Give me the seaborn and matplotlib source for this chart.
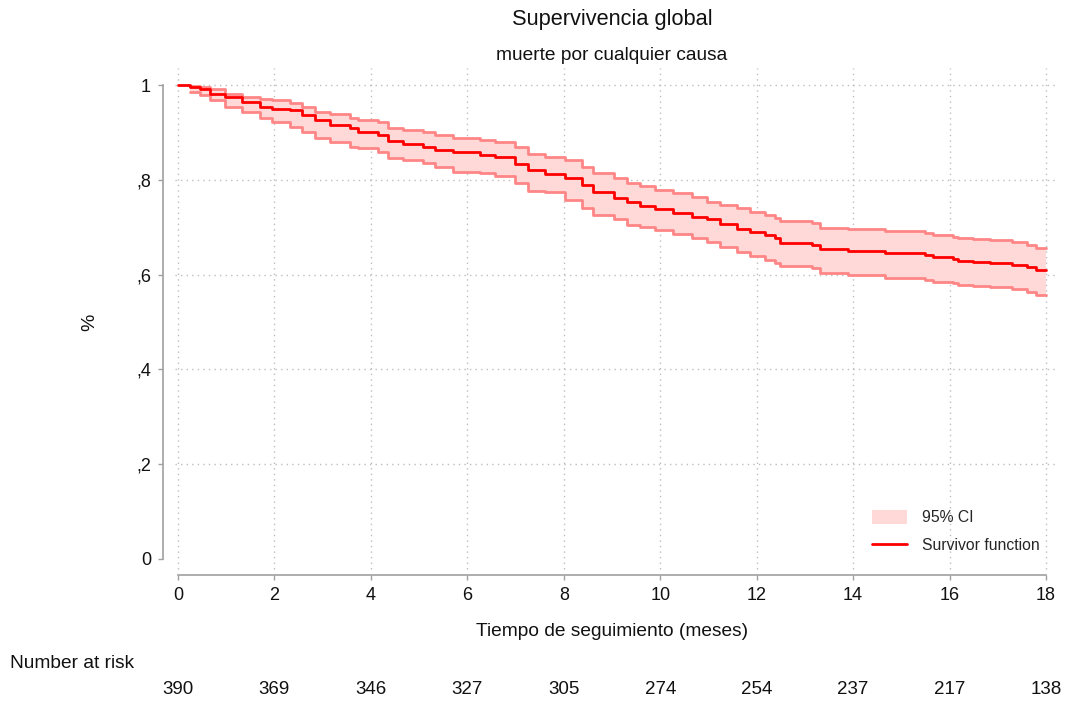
import numpy as np
import matplotlib
matplotlib.use("Agg")
import matplotlib.pyplot as plt
import matplotlib.transforms as mtransforms
from matplotlib.patches import Patch
from matplotlib.lines import Line2D
import pandas as pd
import seaborn as sns

# Kaplan-Meier estimate: step times (months) and survivor function
months = [0, 0.25, 0.46, 0.66, 0.97, 1.33, 1.70, 1.95, 2.32, 2.57,
          2.84, 3.15, 3.57, 3.73, 4.15, 4.36, 4.67, 5.08, 5.33, 5.70,
          6.26, 6.57, 6.99, 7.26, 7.61, 8.03, 8.38, 8.61, 9.04, 9.31,
          9.58, 9.89, 10.27, 10.66, 10.97, 11.24, 11.59, 11.86, 12.17, 12.38,
          12.48, 13.15, 13.31, 13.89, 14.66, 15.49, 15.66, 16.07, 16.18, 16.49,
          16.84, 17.30, 17.61, 17.80]
survival = [1.000, 0.996, 0.992, 0.981, 0.975, 0.964, 0.954, 0.949, 0.947, 0.937,
            0.926, 0.916, 0.909, 0.901, 0.895, 0.882, 0.876, 0.870, 0.863, 0.859,
            0.852, 0.848, 0.833, 0.821, 0.812, 0.804, 0.789, 0.774, 0.762, 0.753,
            0.745, 0.738, 0.730, 0.722, 0.717, 0.707, 0.696, 0.690, 0.684, 0.677,
            0.667, 0.662, 0.654, 0.650, 0.646, 0.641, 0.638, 0.633, 0.629, 0.627,
            0.624, 0.620, 0.616, 0.610]
# 95% confidence limits, defined from the first event onwards
ci_upper = [0.998, 0.995, 0.991, 0.982, 0.975, 0.970, 0.968, 0.961, 0.953,
            0.944, 0.939, 0.931, 0.926, 0.922, 0.909, 0.905, 0.901, 0.895, 0.889,
            0.884, 0.880, 0.870, 0.854, 0.849, 0.842, 0.828, 0.814, 0.804, 0.793,
            0.787, 0.778, 0.772, 0.764, 0.754, 0.747, 0.740, 0.733, 0.726, 0.719,
            0.713, 0.708, 0.699, 0.696, 0.691, 0.687, 0.684, 0.680, 0.677, 0.675,
            0.673, 0.668, 0.662, 0.657]
ci_lower = [0.986, 0.979, 0.968, 0.954, 0.944, 0.930, 0.923, 0.912, 0.901,
            0.888, 0.880, 0.870, 0.867, 0.859, 0.845, 0.842, 0.835, 0.828, 0.817,
            0.814, 0.808, 0.793, 0.777, 0.775, 0.757, 0.740, 0.726, 0.717, 0.705,
            0.700, 0.694, 0.685, 0.677, 0.669, 0.658, 0.647, 0.640, 0.631, 0.624,
            0.618, 0.613, 0.603, 0.599, 0.593, 0.589, 0.585, 0.582, 0.578, 0.577,
            0.574, 0.570, 0.564, 0.557]
follow_up_end = 18

x_ticks = [0, 2, 4, 6, 8, 10, 12, 14, 16, 18]
y_ticks = [0, 0.2, 0.4, 0.6, 0.8, 1.0]
y_tick_labels = ["0", ",2", ",4", ",6", ",8", "1"]
at_risk = [390, 369, 346, 327, 305, 274, 254, 237, 217, 138]

sns.set_theme(style="white")
plt.rcParams["font.family"] = ["Liberation Sans", "DejaVu Sans"]

W, H = 1068, 702
fig = plt.figure(figsize=(W / 100, H / 100), dpi=100)
fig.patch.set_facecolor("white")
ax = fig.add_axes([170 / W, 127 / H, 885 / W, 507 / H])
ax.set_facecolor("white")

# extend curves to the end of follow-up
curve = pd.DataFrame({"months": months + [follow_up_end],
                      "survival": survival + [survival[-1]]})
band_t = months[1:] + [follow_up_end]
band_hi = ci_upper + [ci_upper[-1]]
band_lo = ci_lower + [ci_lower[-1]]

ax.fill_between(band_t, band_lo, band_hi, step="post", color="#ffd8d8", lw=0, zorder=1)
ax.step(band_t, band_hi, where="post", color="#ff8686", lw=2, zorder=2)
ax.step(band_t, band_lo, where="post", color="#ff8686", lw=2, zorder=2)
sns.lineplot(data=curve, x="months", y="survival", drawstyle="steps-post",
             color="#ff0000", lw=2, estimator=None, sort=False, ax=ax, zorder=4)

ax.set_xlim(-0.166, 18.187)
ax.set_ylim(-0.0338, 1.0359)

# dotted grid
grid_kw = dict(colors="#bdbdbd", linestyles=(0, (1, 3)), lw=1.0, zorder=0)
ax.vlines(x_ticks, -0.022, 1.0359, **grid_kw)
ax.hlines(y_ticks[1:], -0.06, 18.187, **grid_kw)

for s in ["top", "right"]:
    ax.spines[s].set_visible(False)
ax.spines["left"].set_position(("outward", 5.0))
ax.spines["left"].set_bounds(0, 1)
ax.spines["bottom"].set_bounds(0, 18)
for s in ["left", "bottom"]:
    ax.spines[s].set_color("#a0a0a0")
    ax.spines[s].set_linewidth(1.2)

ax.set_xticks(x_ticks)
ax.set_xticklabels([str(v) for v in x_ticks])
ax.set_yticks(y_ticks)
ax.set_yticklabels(y_tick_labels)
ax.tick_params(axis="both", which="major", bottom=True, left=True, direction="out",
               length=3.6, width=1.0, color="#a0a0a0", labelsize=13,
               labelcolor="#111111")
ax.tick_params(axis="x", pad=5)
ax.tick_params(axis="y", pad=5)

ax.set_xlabel("Tiempo de seguimiento (meses)", fontsize=13.8, color="#111111", va="center")
ax.xaxis.set_label_coords((612 - 170) / 885, (575 - 632) / 507)
ax.set_ylabel("%", fontsize=14, color="#111111", va="center")
ax.yaxis.set_label_coords((90 - 170) / 885, (575 - 322) / 507)

fig.text(612 / W, 1 - 20 / H, "Supervivencia global", ha="center", va="center",
         fontsize=15.7, color="#111111")
fig.text(612 / W, 1 - 55 / H, "muerte por cualquier causa", ha="center", va="center",
         fontsize=13.8, color="#111111")

# number-at-risk table
fig.text(10 / W, 1 - 663 / H, "Number at risk", ha="left", va="center",
         fontsize=13.8, color="#111111")
risk_tr = mtransforms.blended_transform_factory(ax.transData, fig.transFigure)
for x, n in zip(x_ticks, at_risk):
    ax.text(x, 1 - 690 / H, str(n), transform=risk_tr, ha="center", va="center",
            fontsize=13.5, color="#111111", clip_on=False)

handles = [Patch(facecolor="#ffd8d8", edgecolor="none", label="95% CI"),
           Line2D([], [], color="#ff0000", lw=2, label="Survivor function")]
fig.legend(handles=handles, loc="upper left", bbox_to_anchor=(872 / W, 1 - 510 / H),
           frameon=False, fontsize=11.3, borderpad=0, borderaxespad=0,
           handlelength=2.24, handleheight=0.96, handletextpad=0.96, labelspacing=0.8)

fig.savefig("out.png", dpi=100, facecolor="white")
